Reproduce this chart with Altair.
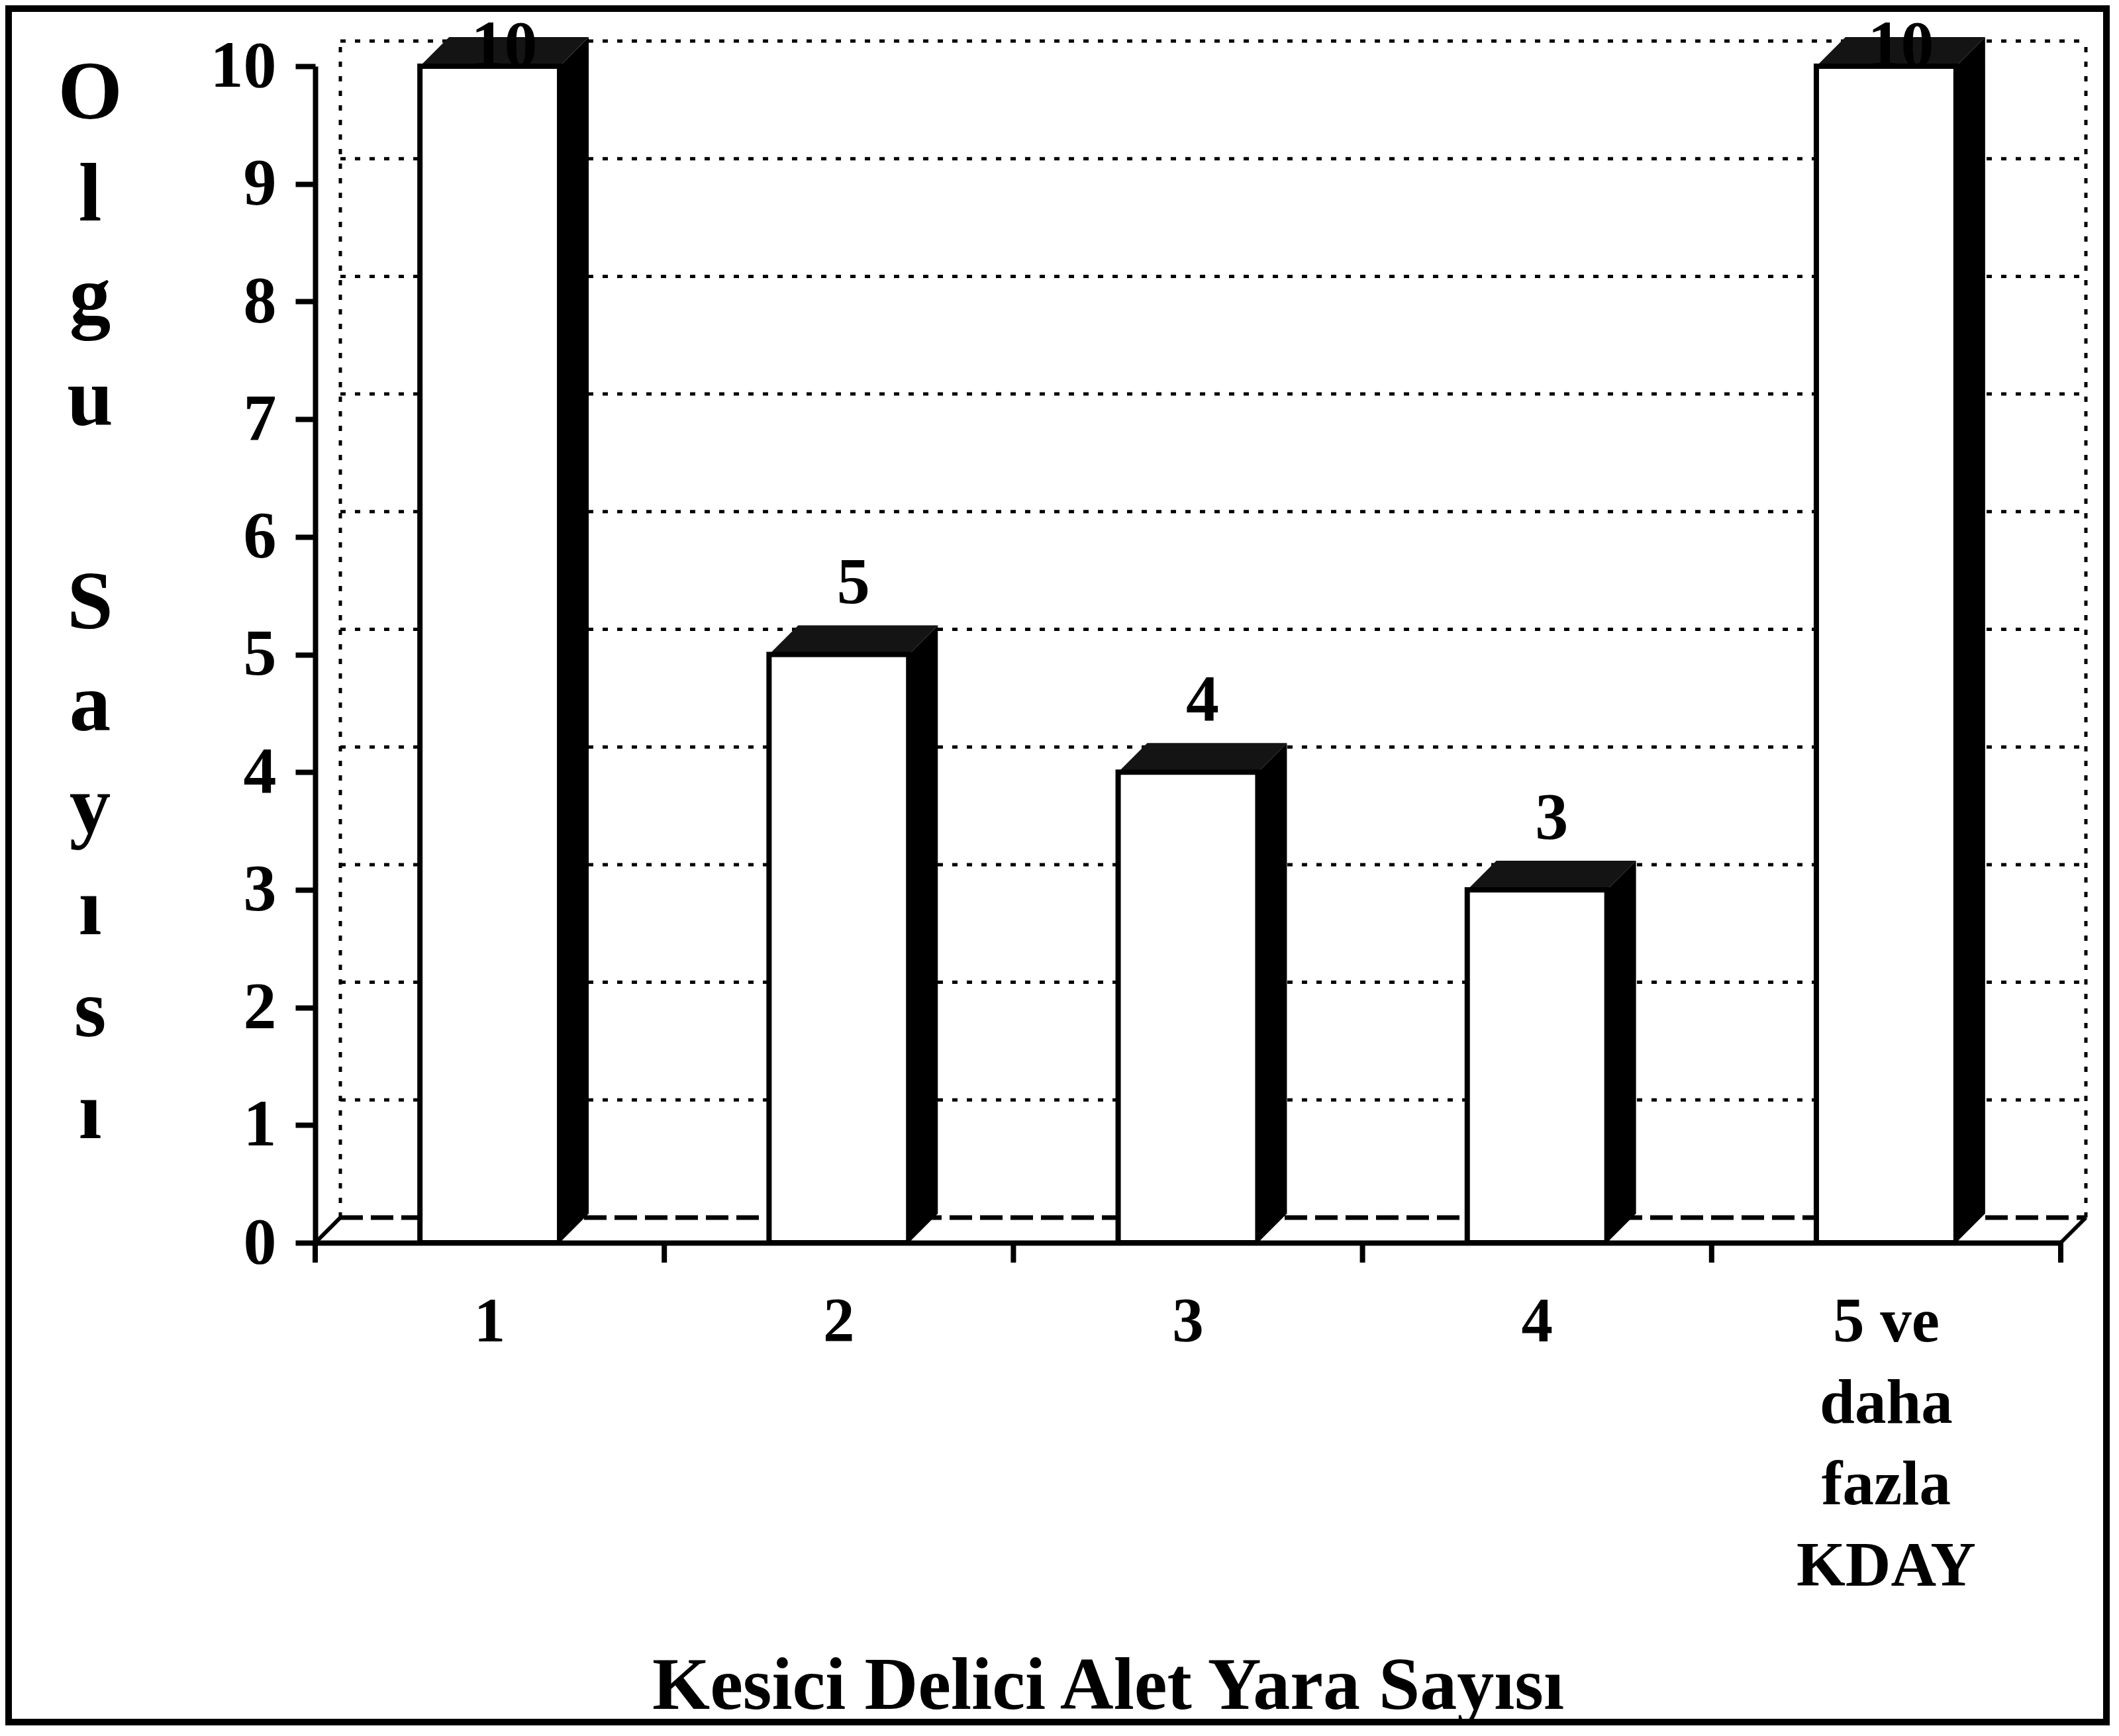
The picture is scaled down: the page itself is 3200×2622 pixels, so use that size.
import altair as alt
import pandas as pd
import numpy as np

# ---- data ----
categories = ["1", "2", "3", "4", "5 ve|daha|fazla|KDAY"]
values = [10, 5, 4, 3, 10]
y_ticks = list(range(0, 11))
x_title = "Kesici Delici Alet Yara Sayısı"
y_title_words = ["Olgu", "Sayısı"]

# ---- layout / style constants ----
W, H = 2636, 1777
FONT = "Liberation Serif"
N = len(categories)
YMAX = 10
UX = W / N
UY = H / YMAX
FLOOR_DX, FLOOR_DY = 38, 38
BAR_DX, BAR_DY = 44, 44
fdx, fdy = FLOOR_DX / UX, FLOOR_DY / UY
bdx, bdy = BAR_DX / UX, BAR_DY / UY
LABEL_OFF = 78 / UY
PAD_L, PAD_T, PAD_R, PAD_B = 468, 92, 76, 731
YT_X, YT_TOP, YT_LH = -340, -20, 154

bars = pd.DataFrame({"cat": categories, "value": values})
bars["i"] = range(N)
bars["xl"] = bars["i"] + 0.3
bars["xr"] = bars["i"] + 0.7
bars["label"] = bars["value"].astype(str)
bars["label_y"] = np.minimum(bars["value"] + LABEL_OFF, YMAX)

side_rows, top_rows = [], []
for _, r in bars.iterrows():
    v = r["value"]
    side_rows += [
        {"bar": r["i"], "x": r["xr"], "y": v, "y2": 0},
        {"bar": r["i"], "x": r["xr"] + bdx, "y": v + bdy, "y2": bdy},
    ]
    top_rows += [
        {"bar": r["i"], "x": r["xl"], "y": v, "y2": v},
        {"bar": r["i"], "x": r["xl"] + bdx, "y": v, "y2": v + bdy},
        {"bar": r["i"], "x": r["xr"], "y": v, "y2": v + bdy},
        {"bar": r["i"], "x": r["xr"] + bdx, "y": v + bdy, "y2": v + bdy},
    ]
side_df = pd.DataFrame(side_rows)
top_df = pd.DataFrame(top_rows)

grid_df = pd.DataFrame({"y": [k + fdy for k in y_ticks[1:]],
                        "x": fdx, "x2": N + fdx})
floor_back_df = pd.DataFrame({"y": [fdy], "x": [fdx], "x2": [N + fdx]})
walls_df = pd.DataFrame({"x": [fdx, N + fdx], "y": fdy, "y2": YMAX + fdy})
diag_df = pd.DataFrame({"x": [0, N], "x2": [fdx, N + fdx],
                        "y": [0, 0], "y2": [fdy, fdy]})
xticks_df = pd.DataFrame({"x": list(range(N + 1)), "y": 0, "y2": 0})

# ---- scales / axes ----
xlin = alt.Scale(domain=[0, N], nice=False, zero=False)
yscale = alt.Scale(domain=[0, YMAX], nice=False, zero=True)
y_axis = alt.Axis(
    values=y_ticks, title=None,
    labelFont=FONT, labelFontSize=100, labelFontWeight="bold",
    labelColor="black", labelPadding=29, labelOverlap=False,
    tickSize=30, tickWidth=8, tickColor="black",
    domainColor="black", domainWidth=8, grid=False,
)
x_axis = alt.Axis(
    title=x_title, labelExpr="split(datum.label, '|')", labelAngle=0,
    labelFont=FONT, labelFontSize=95, labelFontWeight="bold",
    labelColor="black", labelLineHeight=123, labelPadding=73,
    labelLimit=0, labelOverlap=False,
    ticks=False, domainColor="black", domainWidth=8, grid=False,
    titleFont=FONT, titleFontSize=112, titleFontWeight="bold",
    titleColor="black", titleX=1197, titleY=703, titleAlign="center",
    titleBaseline="alphabetic", titleLimit=0,
)


def Y(field):
    return alt.Y(field, scale=yscale, axis=y_axis)


def XL(field):
    return alt.X(field, scale=xlin, axis=None)


frame_right = W + PAD_R - 7
frame_bottom = H + PAD_B - 7
frame = alt.Chart(alt.Data(values=[{}])).mark_rect(
    filled=False, stroke="black", strokeWidth=10
).encode(x=alt.value(-PAD_L + 5), x2=alt.value(frame_right),
         y=alt.value(-PAD_T + 5), y2=alt.value(frame_bottom))

# vertical stacked y-axis title, one word per text block
ytitle_layers = []
line = 0
for word in y_title_words:
    ytitle_layers.append(
        alt.Chart(alt.Data(values=[{"w": word}]))
        .transform_calculate(letters="split(datum.w, '')")
        .mark_text(font=FONT, fontSize=125, fontWeight="bold", color="black",
                   align="center", baseline="top", lineHeight=YT_LH)
        .encode(x=alt.value(YT_X), y=alt.value(YT_TOP + line * YT_LH),
                text="letters:N")
    )
    line += len(word) + 1

grid = alt.Chart(grid_df).mark_rule(
    color="black", strokeWidth=5, strokeDash=[8, 14]
).encode(x=XL("x:Q"), x2="x2:Q", y=Y("y:Q"))

walls = alt.Chart(walls_df).mark_rule(
    color="black", strokeWidth=5, strokeDash=[8, 14]
).encode(x=XL("x:Q"), y=Y("y:Q"), y2="y2:Q")

floor_back = alt.Chart(floor_back_df).mark_rule(
    color="black", strokeWidth=7, strokeDash=[34, 12]
).encode(x=XL("x:Q"), x2="x2:Q", y=Y("y:Q"))

diag = alt.Chart(diag_df).mark_rule(color="black", strokeWidth=6).encode(
    x=XL("x:Q"), x2="x2:Q", y=Y("y:Q"), y2="y2:Q")

xticks = alt.Chart(xticks_df).mark_rule(
    color="black", strokeWidth=8, y2Offset=30
).encode(x=XL("x:Q"), y=Y("y:Q"), y2="y2:Q")

sides = alt.Chart(side_df).mark_area(color="black", interpolate="linear").encode(
    x=XL("x:Q"), y=Y("y:Q"), y2="y2:Q", detail="bar:N")

tops = alt.Chart(top_df).mark_area(color="#141414", interpolate="linear").encode(
    x=XL("x:Q"), y=Y("y:Q"), y2="y2:Q", detail="bar:N")

band = alt.Scale(paddingInner=0.6, paddingOuter=0.3)

fronts = alt.Chart(bars).mark_bar(
    fill="white", stroke="black", strokeWidth=8
).encode(
    x=alt.X("cat:N", sort=categories, scale=band, axis=x_axis),
    y=Y("value:Q"), y2=alt.datum(0),
)

labels = alt.Chart(bars).mark_text(
    font=FONT, fontSize=100, fontWeight="bold", color="black",
    baseline="alphabetic", align="center", xOffset=BAR_DX / 2,
).encode(
    x=alt.X("cat:N", sort=categories, scale=band, axis=None),
    y=Y("label_y:Q"), text="label:N",
)

chart = alt.layer(
    frame, *ytitle_layers, grid, walls, floor_back, diag, xticks,
    sides, tops, fronts, labels
).resolve_scale(x="independent").properties(
    width=W, height=H,
    autosize=alt.AutoSizeParams(type="none"),
    padding={"left": PAD_L, "top": PAD_T, "right": PAD_R, "bottom": PAD_B},
    background="white",
).configure_view(stroke=None)

chart.save("out.html", embed_options={"renderer": "svg", "actions": False})
